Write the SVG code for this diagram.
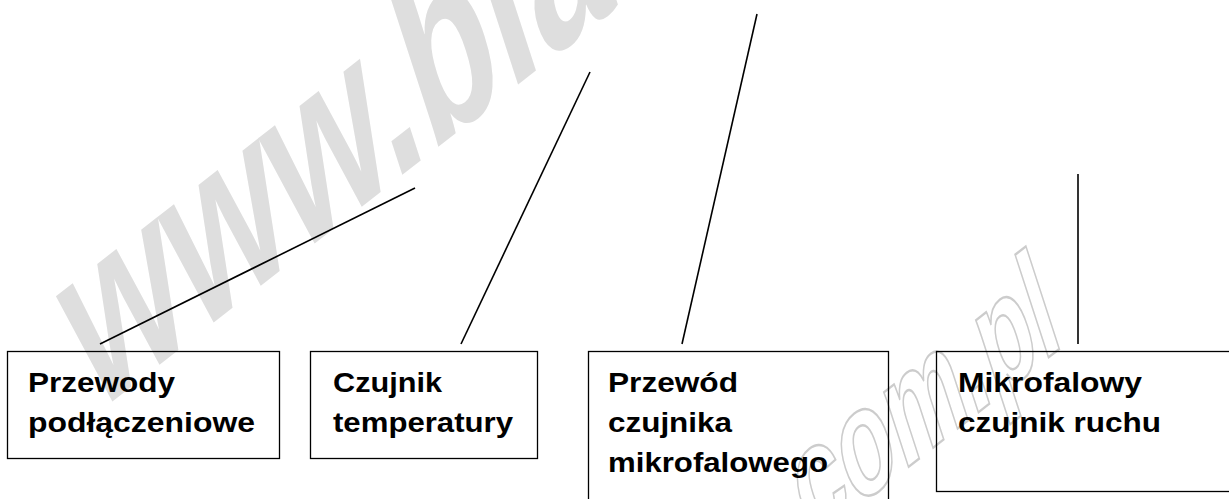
<svg xmlns="http://www.w3.org/2000/svg" width="1229" height="499" viewBox="0 0 1229 499">
  <style>
    .box { fill: none; stroke: #000; stroke-width: 1.3; }
    .lbl { font-family: "Liberation Sans", Arial, sans-serif; font-weight: bold; font-size: 28px; fill: #000; }
    .wm1 { font-family: "Liberation Sans", Arial, sans-serif; font-weight: bold; font-size: 165px; fill: #dedede; }
    .wm2 { font-family: "Liberation Sans", Arial, sans-serif; font-weight: bold; font-size: 100px; fill: none; stroke: #cccccc; stroke-width: 1.6; }
    .conn line { stroke: #000; stroke-width: 1.6; }
  </style>
  <rect x="0" y="0" width="1229" height="499" fill="#fff"/>
  <g id="watermark">
    <text class="wm1" transform="translate(95,415) rotate(-38) skewX(-20) scale(1,1.35)">www.bla</text>
    <text class="wm2" transform="translate(811,543) rotate(-38) skewX(-20) scale(1,1.4)">com.pl</text>
  </g>
  <g id="connectors" class="conn">
    <line x1="100" y1="344" x2="415" y2="188"/>
    <line x1="461" y1="344" x2="590" y2="72"/>
    <line x1="682" y1="344" x2="757" y2="14"/>
    <line x1="1078" y1="344" x2="1078" y2="174"/>
  </g>
  <g id="node-przewody">
    <rect class="box" x="7.5" y="351.5" width="272" height="107"/>
    <text class="lbl" x="28" y="392" textLength="147" lengthAdjust="spacingAndGlyphs">Przewody</text>
    <text class="lbl" x="28" y="432" textLength="227" lengthAdjust="spacingAndGlyphs">podłączeniowe</text>
  </g>
  <g id="node-czujnik-temperatury">
    <rect class="box" x="310.5" y="351.5" width="227" height="107"/>
    <text class="lbl" x="333" y="392" textLength="109" lengthAdjust="spacingAndGlyphs">Czujnik</text>
    <text class="lbl" x="333" y="432" textLength="180" lengthAdjust="spacingAndGlyphs">temperatury</text>
  </g>
  <g id="node-przewod-czujnika">
    <rect class="box" x="588.5" y="351.5" width="300" height="160"/>
    <text class="lbl" x="608" y="392" textLength="130" lengthAdjust="spacingAndGlyphs">Przewód</text>
    <text class="lbl" x="608" y="432" textLength="124" lengthAdjust="spacingAndGlyphs">czujnika</text>
    <text class="lbl" x="608" y="472" textLength="220" lengthAdjust="spacingAndGlyphs">mikrofalowego</text>
  </g>
  <g id="node-mikrofalowy">
    <rect class="box" x="936.5" y="351.5" width="300" height="140"/>
    <text class="lbl" x="958" y="392" textLength="184" lengthAdjust="spacingAndGlyphs">Mikrofalowy</text>
    <text class="lbl" x="958" y="432" textLength="203" lengthAdjust="spacingAndGlyphs">czujnik ruchu</text>
  </g>
</svg>
